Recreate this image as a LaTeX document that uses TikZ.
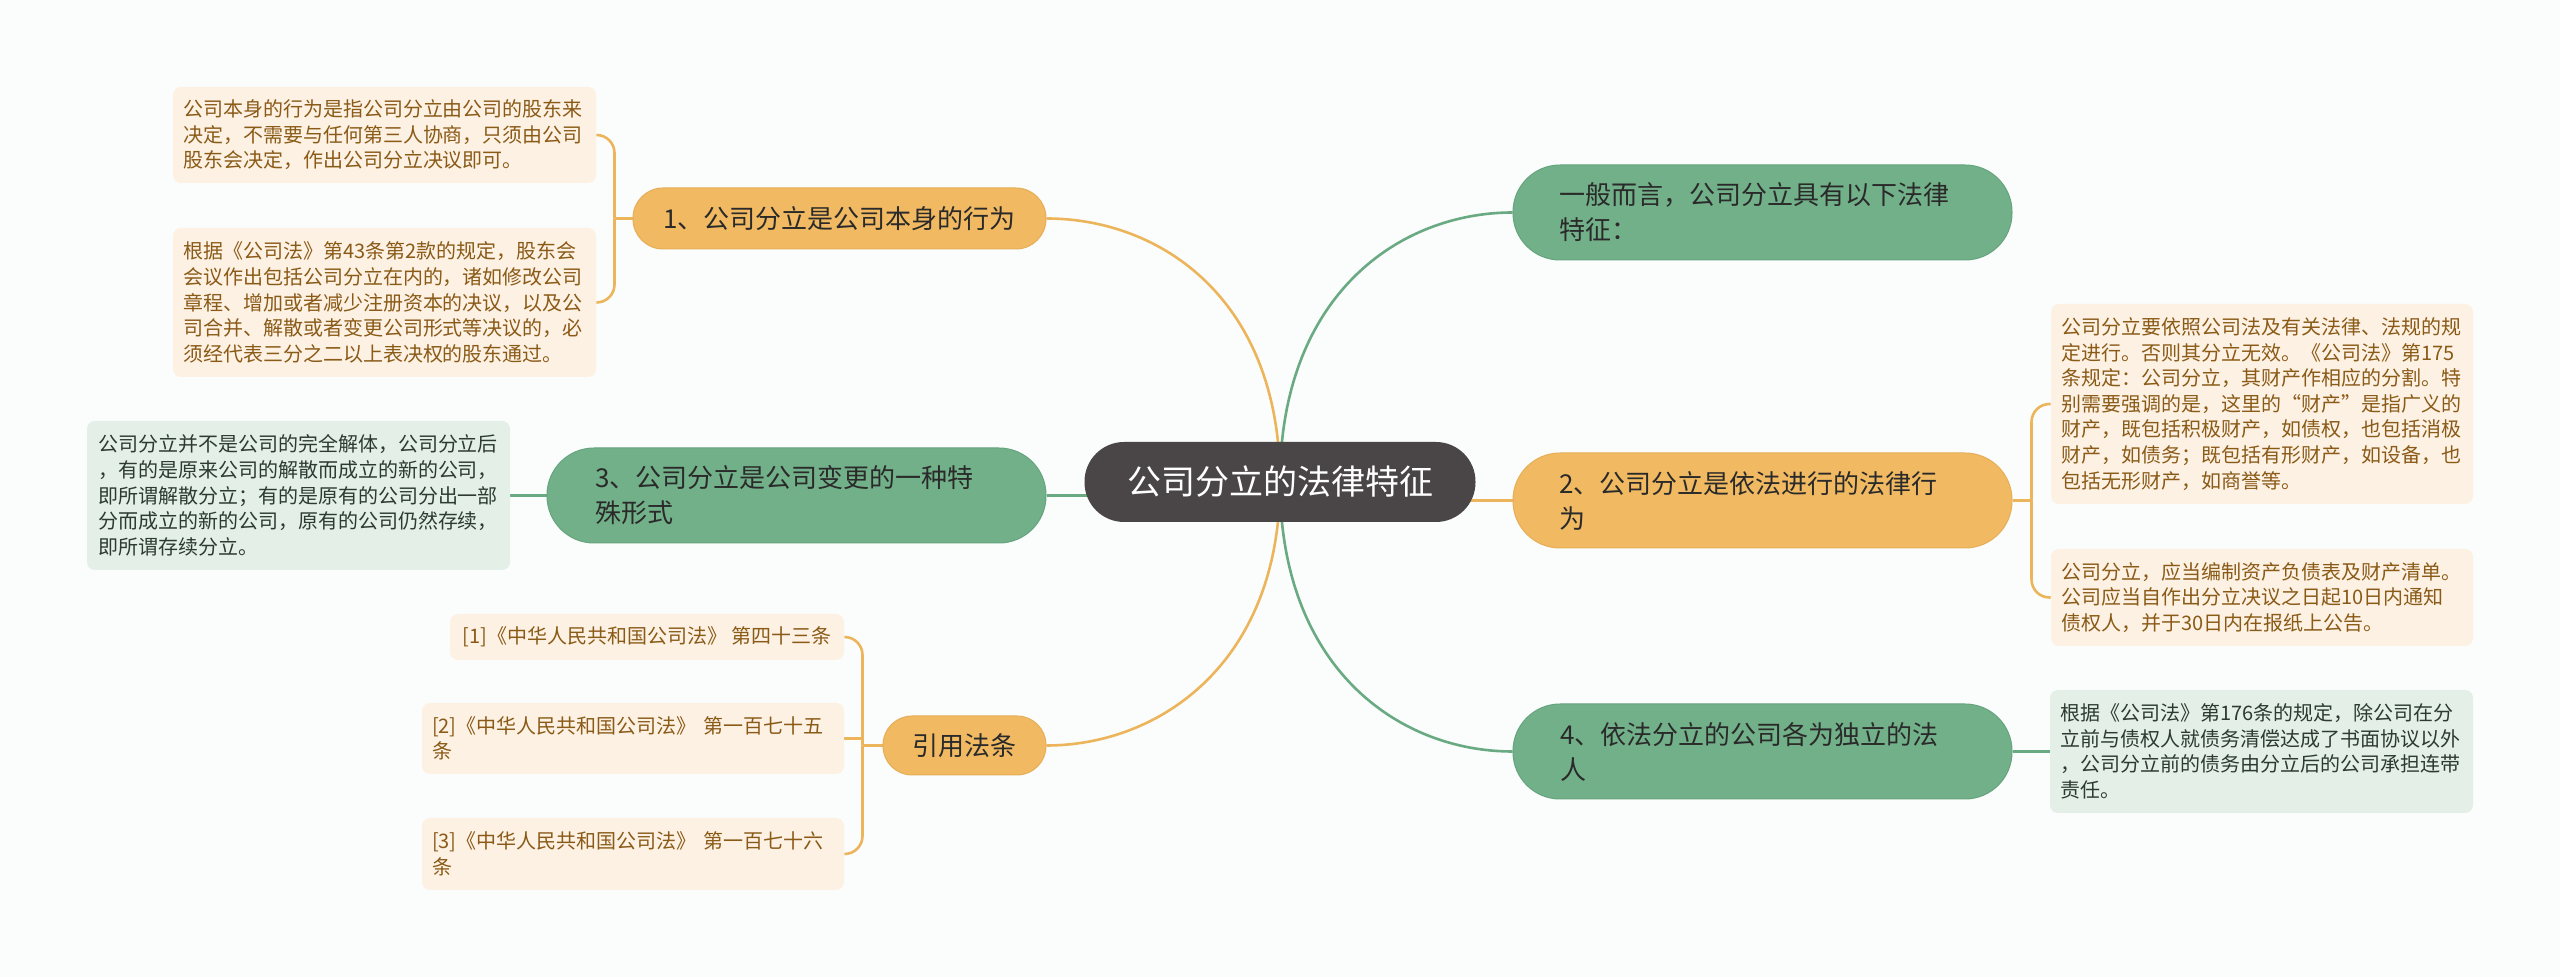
\documentclass[tikz,border=0pt]{standalone}
\usepackage{fontspec}
\setmainfont{Noto Sans CJK SC}
\usetikzlibrary{calc}
\definecolor{bgc}{HTML}{FAFDFC}
\definecolor{orn}{HTML}{F1BA62}
\definecolor{ornd}{HTML}{E6AE57}
\definecolor{ornl}{HTML}{ECB55C}
\definecolor{grn}{HTML}{72B089}
\definecolor{grnd}{HTML}{66A47D}
\definecolor{grnl}{HTML}{6AAA82}
\definecolor{cen}{HTML}{4A4546}
\definecolor{leafo}{HTML}{FDF1E3}
\definecolor{leafg}{HTML}{E3EFE7}
\definecolor{txto}{HTML}{8A5A17}
\definecolor{txtg}{HTML}{2C3A30}
\definecolor{txtn}{HTML}{2A2A2A}
\pgfdeclarelayer{back}\pgfdeclarelayer{bg}\pgfsetlayers{back,bg,main}
\tikzset{
  mainnode/.style={fill=cen, text=white, font=\fontsize{17}{20}\selectfont,
    minimum width=195.5pt, minimum height=40pt, rounded corners=19.8pt, inner sep=0pt},
  topic/.style={inner sep=0pt, minimum width=249.5pt, minimum height=47.5pt,
    rounded corners=23.5pt, font=\fontsize{13}{17.5}\selectfont, text=txtn, align=left, line width=0.5pt},
  otopic/.style={topic, fill=orn, draw=ornd},
  gtopic/.style={topic, fill=grn, draw=grnd},
  leaf/.style={inner sep=0pt, rounded corners=4pt, font=\fontsize{10}{12.8}\selectfont, align=left},
  oleaf/.style={leaf, fill=leafo, text=txto},
  gleaf/.style={leaf, fill=leafg, text=txtg},
  oline/.style={draw=ornl, line width=1.3pt},
  gline/.style={draw=grnl, line width=1.3pt},
}
\begin{document}
\begin{tikzpicture}[x=0.5pt,y=-0.5pt]
\begin{pgfonlayer}{back}
\fill[bgc] (0,0) rectangle (2560,977);
\end{pgfonlayer}
\useasboundingbox (0,0) rectangle (2560,977);

% central
\node[mainnode] (C) at (1280,482) {公司分立的法律特征};

% main topics
\node[otopic, minimum width=206.5pt, minimum height=30.5pt, rounded corners=15pt, align=center] (O1) at (839.5,218.5) {1、公司分立是公司本身的行为};
\node[gtopic, text width=201.5pt] (G3) at (796.5,495.5) {3、公司分立是公司变更的一种特\\殊形式};
\node[otopic, minimum width=81.5pt, minimum height=29.5pt, rounded corners=14.5pt, align=center] (R) at (964.5,745.5) {引用法条};
\node[gtopic, text width=203.5pt] (G1) at (1762.5,212.5) {一般而言，公司分立具有以下法律\\特征：};
\node[otopic, text width=203.5pt] (O2) at (1762.5,500.5) {2、公司分立是依法进行的法律行\\为};
\node[gtopic, text width=202.5pt] (G4) at (1762.5,751.5) {4、依法分立的公司各为独立的法\\人};

% leaves
\node[oleaf, minimum width=211.5pt, minimum height=48pt, text width=201.5pt] (L1a) at (384.5,135)
 {公司本身的行为是指公司分立由公司的股东来\\决定，不需要与任何第三人协商，只须由公司\\股东会决定，作出公司分立决议即可。};
\node[oleaf, minimum width=211.5pt, minimum height=74.5pt, text width=201.5pt] (L1b) at (384.5,302.5)
 {根据《公司法》第43条第2款的规定，股东会\\会议作出包括公司分立在内的，诸如修改公司\\章程、增加或者减少注册资本的决议，以及公\\司合并、解散或者变更公司形式等决议的，必\\须经代表三分之二以上表决权的股东通过。};
\node[gleaf, minimum width=211.5pt, minimum height=74.5pt, text width=200.5pt] (L3) at (298.5,495.5)
 {公司分立并不是公司的完全解体，公司分立后\\，有的是原来公司的解散而成立的新的公司，\\即所谓解散分立；有的是原有的公司分出一部\\分而成立的新的公司，原有的公司仍然存续，\\即所谓存续分立。};
\node[oleaf, minimum width=197pt, minimum height=23pt] (F1) at (647,637)
 {[1]《中华人民共和国公司法》~第四十三条};
\node[oleaf, minimum width=211pt, minimum height=35.5pt, text width=201pt] (F2) at (633,738.5)
 {[2]《中华人民共和国公司法》~第一百七十五\\条};
\node[oleaf, minimum width=211pt, minimum height=36pt, text width=201pt] (F3) at (633,854)
 {[3]《中华人民共和国公司法》~第一百七十六\\条};
\node[oleaf, minimum width=211pt, minimum height=100pt, text width=201pt] (LA) at (2262,404)
 {公司分立要依照公司法及有关法律、法规的规\\定进行。否则其分立无效。《公司法》第175\\条规定：公司分立，其财产作相应的分割。特\\别需要强调的是，这里的“财产”是指广义的\\财产，既包括积极财产，如债权，也包括消极\\财产，如债务；既包括有形财产，如设备，也\\包括无形财产，如商誉等。};
\node[oleaf, minimum width=211pt, minimum height=48.5pt, text width=201pt] (LB) at (2262,597.5)
 {公司分立，应当编制资产负债表及财产清单。\\公司应当自作出分立决议之日起10日内通知\\债权人，并于30日内在报纸上公告。};
\node[gleaf, minimum width=211.5pt, minimum height=61.5pt, text width=201.5pt] (L4) at (2261.5,751.5)
 {根据《公司法》第176条的规定，除公司在分\\立前与债权人就债务清偿达成了书面协议以外\\，公司分立前的债务由分立后的公司承担连带\\责任。};

\begin{pgfonlayer}{bg}
% from center
\draw[oline] (C.center) .. controls +(0,-182) and +(115,0) .. (O1.east);
\draw[gline] (C.center) .. controls +(0,-186) and +(-114,0) .. (G1.west);
\draw[oline] (C.center) .. controls +(0,181) and +(113,0) .. (R.east);
\draw[gline] (C.center) .. controls +(0,186) and +(-114,0) .. (G4.west);
\draw[oline] (C.center |- O2.west) -- (O2.west);
\draw[gline] (C.center |- G3.east) -- (G3.east);
% brackets
\coordinate (b1) at ($(O1.west)+(-18,0)$);
\draw[oline] (O1.west) -- (b1);
\draw[oline, rounded corners=9pt] (b1) |- (L1a.east);
\draw[oline, rounded corners=9pt] (b1) |- (L1b.east);
\coordinate (b2) at ($(R.west)+(-20,0)$);
\draw[oline] (R.west) -- (b2);
\draw[oline, rounded corners=9pt] (b2) |- (F1.east);
\draw[oline] (b2) -- (b2 |- F2.east) -- (F2.east);
\draw[oline, rounded corners=9pt] (b2) |- (F3.east);
\coordinate (b3) at ($(O2.east)+(19,0)$);
\draw[oline] (O2.east) -- (b3);
\draw[oline, rounded corners=9pt] (b3) |- (LA.west);
\draw[oline, rounded corners=9pt] (b3) |- (LB.west);
\draw[gline] (G3.west) -- (L3.east);
\draw[gline] (G4.east) -- (L4.west);
\end{pgfonlayer}
\end{tikzpicture}
\end{document}
